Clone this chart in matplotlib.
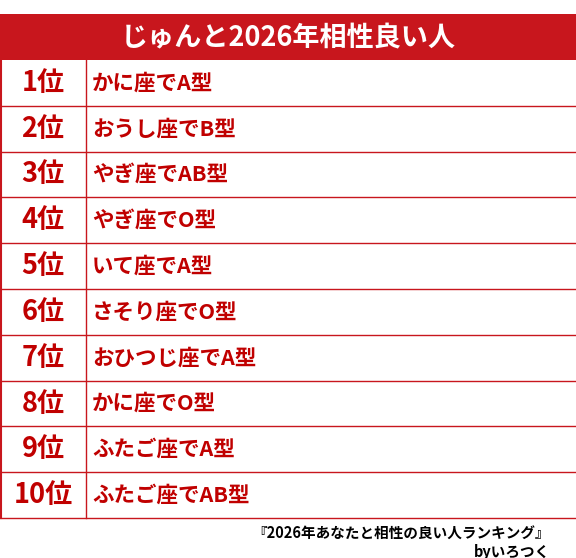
import matplotlib
matplotlib.use("Agg")
import matplotlib.pyplot as plt
from matplotlib.patches import Rectangle

plt.rcParams['font.family'] = ['Noto Sans CJK JP', 'DejaVu Sans']

title = "じゅんと2026年相性良い人"
ranks = ["1位", "2位", "3位", "4位", "5位", "6位", "7位", "8位", "9位", "10位"]
items = ["かに座でA型", "おうし座でB型", "やぎ座でAB型", "やぎ座でO型", "いて座でA型",
         "さそり座でO型", "おひつじ座でA型", "かに座でO型", "ふたご座でA型", "ふたご座でAB型"]
footer1 = "『2026年あなたと相性の良い人ランキング』"
footer2 = "byいろつく"

RED = "#C8161D"
TXT = "#C00000"

fig = plt.figure(figsize=(5.76, 5.58), dpi=100)
ax = fig.add_axes([0, 0, 1, 1])
ax.set_xlim(0, 576)
ax.set_ylim(558, 0)
ax.axis("off")

top, hh = 14, 46
ax.add_patch(Rectangle((0, top), 576, hh, color=RED, lw=0))
ax.text(288, top + hh / 2, title, color="white", fontsize=19.5, fontweight="bold",
        ha="center", va="center")

y0 = top + hh
rh = 45.8
n = len(ranks)
for i, (r, it) in enumerate(zip(ranks, items)):
    yc = y0 + (i + 0.5) * rh
    ax.text(43, yc, r, color=TXT, fontsize=19.5, fontweight="bold", ha="center", va="center")
    ax.text(92, yc, it, color=TXT, fontsize=15.5, fontweight="bold", ha="left", va="center")
    ax.plot([0, 576], [y0 + (i + 1) * rh] * 2, color=RED, lw=1)
ybot = y0 + n * rh
ax.plot([86, 86], [y0, ybot], color=RED, lw=1)
ax.plot([0.5, 0.5], [y0, ybot], color=RED, lw=1.5)

ax.text(550, ybot + 16, footer1, color="black", fontsize=10.5, fontweight="bold",
        ha="right", va="center")
ax.text(550, ybot + 34, footer2, color="black", fontsize=10.5, fontweight="bold",
        ha="right", va="center")

fig.savefig("out.png", dpi=100)
